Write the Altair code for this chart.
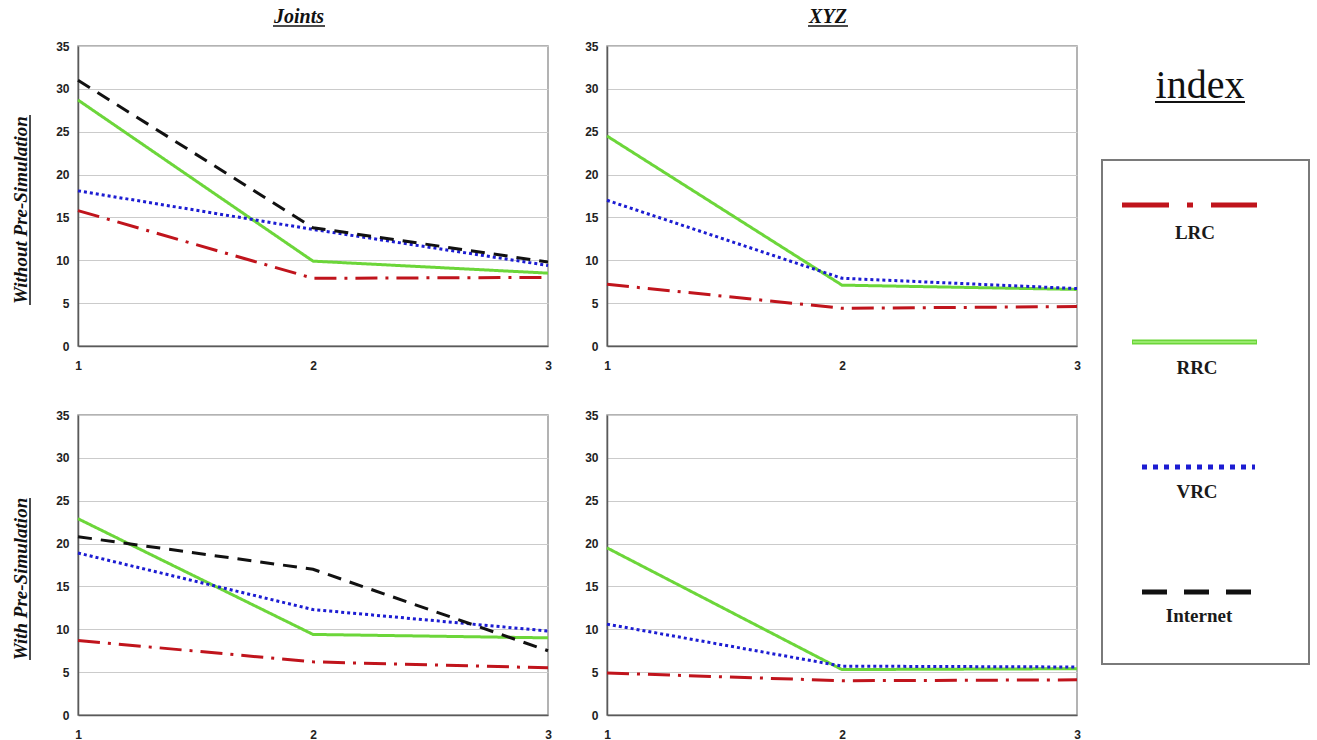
import altair as alt
import pandas as pd

# ---- data -------------------------------------------------------------
RUNS = [1, 2, 3]
SERIES = ["LRC", "RRC", "VRC", "Internet"]

# Joints / without pre-simulation
JW_LRC = [15.8, 7.9, 8.0]
JW_RRC = [28.7, 9.9, 8.5]
JW_VRC = [18.1, 13.6, 9.4]
JW_INT = [31.0, 13.8, 9.8]

# XYZ / without pre-simulation
XW_LRC = [7.2, 4.4, 4.6]
XW_RRC = [24.5, 7.1, 6.6]
XW_VRC = [17.0, 7.9, 6.7]

# Joints / with pre-simulation
JP_LRC = [8.7, 6.2, 5.5]
JP_RRC = [22.9, 9.4, 9.0]
JP_VRC = [18.9, 12.3, 9.8]
JP_INT = [20.8, 17.0, 7.5]

# XYZ / with pre-simulation
XP_LRC = [4.9, 4.0, 4.1]
XP_RRC = [19.5, 5.3, 5.4]
XP_VRC = [10.6, 5.7, 5.6]

Y_TICKS = [0, 5, 10, 15, 20, 25, 30, 35]

# ---- styling ------------------------------------------------------------
COLORS = ["#c0141c", "#6cd63a", "#1c1cd2", "#111111"]
DASHES = [[22, 8, 3, 8], [1, 0], [3, 3], [14, 9]]
SERIF = "Liberation Serif"
SANS = "Liberation Sans"
PW, PH = 470, 300


def frame(series_values):
    rows = []
    for name, vals in series_values.items():
        for r, v in zip(RUNS, vals):
            rows.append({"run": r, "value": v, "series": name})
    return pd.DataFrame(rows)


dummy = pd.DataFrame({"k": [0]})


def panel(series_values, col_title=None, col_half=0, row_title=None, row_half=0):
    lines = alt.Chart(frame(series_values)).mark_line(strokeWidth=3).encode(
        x=alt.X("run:O",
                scale=alt.Scale(type="point", domain=RUNS, padding=0),
                axis=alt.Axis(grid=False, ticks=False, labelAngle=0,
                              labelPadding=14, labelOverlap=False, title=None)),
        y=alt.Y("value:Q",
                scale=alt.Scale(domain=[0, 35], nice=False),
                axis=alt.Axis(values=Y_TICKS, ticks=False, labelPadding=9,
                              labelOverlap=False, title=None, grid=True)),
        color=alt.Color("series:N", scale=alt.Scale(domain=SERIES, range=COLORS), legend=None),
        strokeDash=alt.StrokeDash("series:N", scale=alt.Scale(domain=SERIES, range=DASHES),
                                  legend=None),
        order=alt.Order("run:Q"),
    )
    layers = [lines]
    if col_title:
        cx = 221
        layers.append(alt.Chart(dummy).mark_text(
            text=col_title, font=SERIF, fontSize=20, fontWeight="bold", fontStyle="italic",
            align="center", baseline="alphabetic", color="#111").encode(
            x=alt.value(cx), y=alt.value(-23)))
        layers.append(alt.Chart(dummy).mark_rule(color="#111", strokeWidth=1.5).encode(
            x=alt.value(cx - col_half), x2=alt.value(cx + col_half), y=alt.value(-20)))
    if row_title:
        cy = 164
        layers.append(alt.Chart(dummy).mark_text(
            text=row_title, font=SERIF, fontSize=19, fontWeight="bold", fontStyle="italic",
            align="center", baseline="alphabetic", angle=270, color="#111").encode(
            x=alt.value(-51), y=alt.value(cy)))
        layers.append(alt.Chart(dummy).mark_rule(color="#111", strokeWidth=1.5).encode(
            x=alt.value(-48), y=alt.value(cy - row_half), y2=alt.value(cy + row_half)))
    return alt.layer(*layers).properties(width=PW, height=PH)


p11 = panel({"LRC": JW_LRC, "RRC": JW_RRC, "VRC": JW_VRC, "Internet": JW_INT},
            col_title="Joints", col_half=26, row_title="Without Pre-Simulation", row_half=95)
p12 = panel({"LRC": XW_LRC, "RRC": XW_RRC, "VRC": XW_VRC},
            col_title="XYZ", col_half=20)
p21 = panel({"LRC": JP_LRC, "RRC": JP_RRC, "VRC": JP_VRC, "Internet": JP_INT},
            row_title="With Pre-Simulation", row_half=81)
p22 = panel({"LRC": XP_LRC, "RRC": XP_RRC, "VRC": XP_VRC})

# ---- hand-drawn key on the right ---------------------------------------
# The key sits in the third grid column; OX pulls its drawing left towards the plots.
OX = -34
LW = 207
key_layers = [
    alt.Chart(dummy).mark_rect(fill="white", stroke="#7a7a7a", strokeWidth=2).encode(
        x=alt.value(OX), x2=alt.value(OX + LW), y=alt.value(114), y2=alt.value(618)),
    alt.Chart(dummy).mark_text(text="index", font=SERIF, fontSize=40, align="center",
                               baseline="alphabetic", color="#111").encode(
        x=alt.value(OX + 98), y=alt.value(52)),
    alt.Chart(dummy).mark_rule(color="#111", strokeWidth=2).encode(
        x=alt.value(OX + 53), x2=alt.value(OX + 143), y=alt.value(56)),
]
# (series, sample x0, x1, sample y, label x, label baseline, dash, width)
KEY = [
    ("LRC", 20, 155, 159, 93, 193, [47, 18, 6, 18], 5),
    ("RRC", 30, 155, 296, 95, 328, [1, 0], 5),
    ("VRC", 40, 153, 421, 95, 452, [5, 6], 5),
    ("Internet", 40, 149, 546, 97, 576, [25, 17], 5),
]
for (name, x0, x1, ly, tx, ty, dash, w) in KEY:
    col = COLORS[SERIES.index(name)]
    key_layers.append(alt.Chart(dummy).mark_rule(color=col, strokeWidth=w, strokeDash=dash).encode(
        x=alt.value(OX + x0), x2=alt.value(OX + x1), y=alt.value(ly)))
    if name == "RRC":
        key_layers.append(alt.Chart(dummy).mark_rule(color="#a6f07e", strokeWidth=1.5).encode(
            x=alt.value(OX + x0 + 1), x2=alt.value(OX + x1 - 1), y=alt.value(ly)))
    key_layers.append(alt.Chart(dummy).mark_text(
        text=name, font=SERIF, fontSize=19, fontWeight="bold", align="center",
        baseline="alphabetic", color="#1a1a1a").encode(x=alt.value(OX + tx), y=alt.value(ty)))

key = alt.layer(*key_layers).properties(
    width=120, height=PH, view=alt.ViewBackground(stroke="transparent"))

chart = alt.concat(
    p11, p12, key, p21, p22,
    columns=3, spacing={"row": 69, "column": 59}, bounds="flush", align="each",
).properties(
    padding={"left": 11, "top": 6, "right": 3, "bottom": 0},
    background="white",
).configure_view(
    stroke="#9a9a9a", strokeWidth=1.5
).configure_axis(
    domainColor="#5a5a5a", domainWidth=1.5, gridColor="#cbcbcb", gridWidth=1,
    labelFont=SANS, labelFontSize=12, labelFontWeight="bold", labelColor="#222"
)

chart.save("out.html", embed_options={"renderer": "svg", "actions": False})
